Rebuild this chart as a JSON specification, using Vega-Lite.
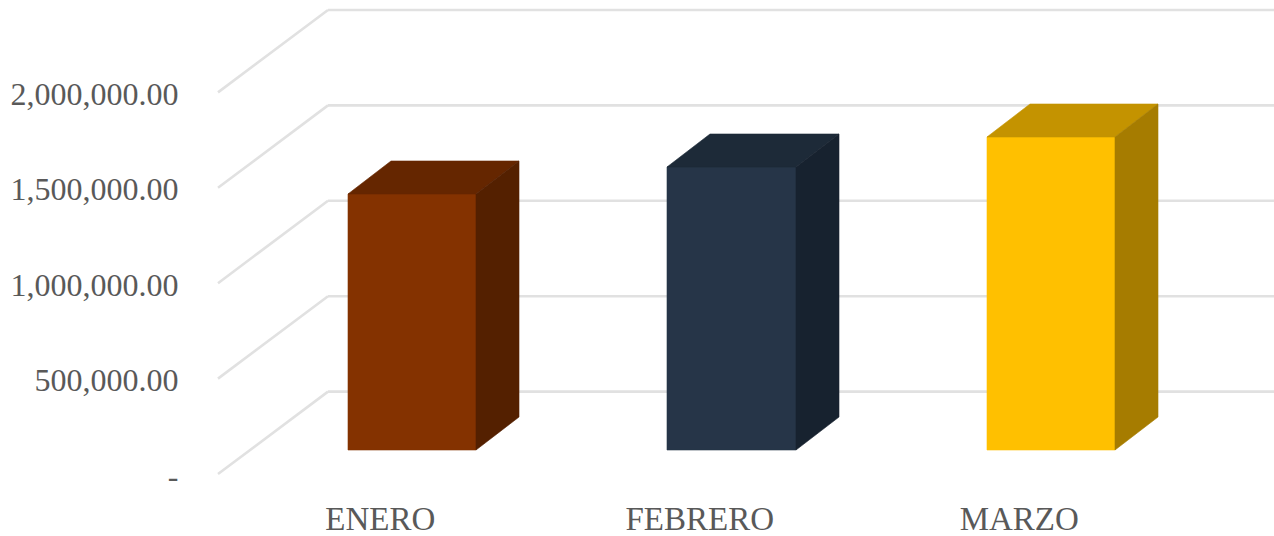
{
"$schema":"https://vega.github.io/schema/vega-lite/v6.json",
"autosize":{"type":"none"},
"padding":{"left":186,"top":0,"right":0,"bottom":46},
"width":1088,"height":490,
"background":"white",
"config":{"view":{"stroke":null},"axis":{"labelFont":"Liberation Serif","labelFontSize":32,"labelColor":"#595959","domain":false,"ticks":false,"grid":false,"title":null}},
"datasets":{
"rejilla":[
{"x0":-0.00626,"x1":0.33803,"y0":0,"y1":431866},
{"x0":-0.00626,"x1":0.33803,"y0":500000,"y1":931866},
{"x0":-0.00626,"x1":0.33803,"y0":1000000,"y1":1431866},
{"x0":-0.00626,"x1":0.33803,"y0":1500000,"y1":1931866},
{"x0":-0.00626,"x1":0.33803,"y0":2000000,"y1":2431866},
{"x0":0.33803,"x1":3.2989,"y0":431866,"y1":431866},
{"x0":0.33803,"x1":3.2989,"y0":931866,"y1":931866},
{"x0":0.33803,"x1":3.2989,"y0":1431866,"y1":1431866},
{"x0":0.33803,"x1":3.2989,"y0":1931866,"y1":1931866},
{"x0":0.33803,"x1":3.2989,"y0":2431866,"y1":2431866}
],
"barras":[
{"cara":"ENERO frente","x":0.40063,"alto":1467505,"base":125786},
{"cara":"ENERO frente","x":0.80125,"alto":1467505,"base":125786},
{"cara":"ENERO techo","x":0.40063,"alto":1467505,"base":1467505},
{"cara":"ENERO techo","x":0.53521,"alto":1640461,"base":1467505},
{"cara":"ENERO techo","x":0.80125,"alto":1640461,"base":1467505},
{"cara":"ENERO techo","x":0.93584,"alto":1640461,"base":1640461},
{"cara":"ENERO lado","x":0.80125,"alto":1467505,"base":125786},
{"cara":"ENERO lado","x":0.93584,"alto":1640461,"base":298742},
{"cara":"FEBRERO frente","x":1.39906,"alto":1609015,"base":125786},
{"cara":"FEBRERO frente","x":1.80282,"alto":1609015,"base":125786},
{"cara":"FEBRERO techo","x":1.39906,"alto":1609015,"base":1609015},
{"cara":"FEBRERO techo","x":1.53365,"alto":1781971,"base":1609015},
{"cara":"FEBRERO techo","x":1.80282,"alto":1781971,"base":1609015},
{"cara":"FEBRERO techo","x":1.9374,"alto":1781971,"base":1781971},
{"cara":"FEBRERO lado","x":1.80282,"alto":1609015,"base":125786},
{"cara":"FEBRERO lado","x":1.9374,"alto":1781971,"base":298742},
{"cara":"MARZO frente","x":2.40063,"alto":1766247,"base":125786},
{"cara":"MARZO frente","x":2.80125,"alto":1766247,"base":125786},
{"cara":"MARZO techo","x":2.40063,"alto":1766247,"base":1766247},
{"cara":"MARZO techo","x":2.53521,"alto":1939203,"base":1766247},
{"cara":"MARZO techo","x":2.80125,"alto":1939203,"base":1766247},
{"cara":"MARZO techo","x":2.93584,"alto":1939203,"base":1939203},
{"cara":"MARZO lado","x":2.80125,"alto":1766247,"base":125786},
{"cara":"MARZO lado","x":2.93584,"alto":1939203,"base":298742}
]
},
"layer":[
{"data":{"name":"rejilla"},
 "mark":{"type":"rule","stroke":"#e1e1e1","strokeWidth":2.6},
 "encoding":{
  "x":{"field":"x0","type":"quantitative","scale":{"domain":[-0.10642,3.2989],"nice":false,"zero":false},
    "axis":{"values":[0.5,1.5,2.5],"labelPadding":13,"labelFontSize":33,"labelExpr":"datum.value==0.5?'ENERO':datum.value==1.5?'FEBRERO':'MARZO'"}},
  "x2":{"field":"x1"},
  "y":{"field":"y0","type":"quantitative","scale":{"domain":[-83857,2484277],"nice":false,"zero":false},
    "axis":{"values":[0,500000,1000000,1500000,2000000],"labelPadding":8,"labelOffset":2,"labelExpr":"datum.value==0?'-\u2002':format(datum.value,',.2f')"}},
  "y2":{"field":"y1"}
 }},
{"data":{"name":"barras"},
 "mark":{"type":"area","opacity":1,"strokeWidth":0.6},
 "encoding":{
  "x":{"field":"x","type":"quantitative",
    "axis":{"values":[0.5,1.5,2.5],"labelPadding":13,"labelFontSize":33,"labelExpr":"datum.value==0.5?'ENERO':datum.value==1.5?'FEBRERO':'MARZO'"}},
  "y":{"field":"alto","type":"quantitative",
    "axis":{"values":[0,500000,1000000,1500000,2000000],"labelPadding":8,"labelOffset":2,"labelExpr":"datum.value==0?'-\u2002':format(datum.value,',.2f')"}},
  "y2":{"field":"base"},
  "color":{"field":"cara","type":"nominal","legend":null,
    "scale":{"domain":["ENERO frente","ENERO techo","ENERO lado","FEBRERO frente","FEBRERO techo","FEBRERO lado","MARZO frente","MARZO techo","MARZO lado"],
    "range":["#843200","#652600","#542000","#263548","#1d2a38","#17222f","#ffc000","#c49300","#a67c00"]}},
  "stroke":{"field":"cara","type":"nominal","legend":null,
    "scale":{"domain":["ENERO frente","ENERO techo","ENERO lado","FEBRERO frente","FEBRERO techo","FEBRERO lado","MARZO frente","MARZO techo","MARZO lado"],
    "range":["#843200","#652600","#542000","#263548","#1d2a38","#17222f","#ffc000","#c49300","#a67c00"]}}
 }}
]
}
